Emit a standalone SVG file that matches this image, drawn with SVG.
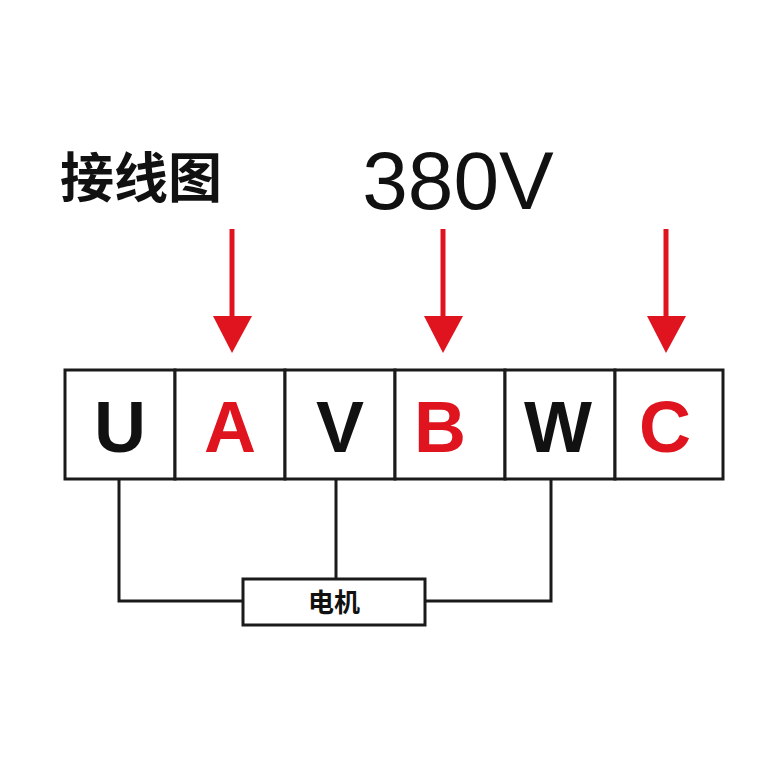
<svg xmlns="http://www.w3.org/2000/svg" width="769" height="769" viewBox="0 0 769 769">
<style>
.cell{fill:#fff;stroke:#1a1a1a;stroke-width:3}
.lt{font-family:"Liberation Sans",Arial,sans-serif;font-weight:bold;font-size:72px;text-anchor:middle}
.k{fill:#111}.r{fill:#e0141e}
.w{fill:none;stroke:#1a1a1a;stroke-width:3}
.ar{stroke:#e0141e;stroke-width:5}
</style>
<rect width="769" height="769" fill="#fff"/>
<text x="60" y="198" font-family="'Noto Sans CJK SC',sans-serif" font-weight="bold" font-size="54" fill="#111">接线图</text>
<text x="458" y="209" font-family="'Liberation Sans',Arial,sans-serif" font-size="82" fill="#111" text-anchor="middle">380V</text>
<g id="arrows">
<line class="ar" x1="232" y1="229" x2="232" y2="320"/><polygon points="213,316 252,316 232,353" fill="#e0141e"/>
<line class="ar" x1="443" y1="229" x2="443" y2="320"/><polygon points="424,316 463,316 443,353" fill="#e0141e"/>
<line class="ar" x1="666" y1="229" x2="666" y2="320"/><polygon points="647,316 686,316 666,353" fill="#e0141e"/>
</g>
<g id="connectors">
<polyline class="w" points="119,479 119,601 243,601"/>
<line class="w" x1="336" y1="479" x2="336" y2="579"/>
<polyline class="w" points="551,479 551,601 425,601"/>
</g>
<g id="U"><rect class="cell" x="65" y="370" width="110" height="109"/><text class="lt k" x="120" y="452">U</text></g>
<g id="A"><rect class="cell" x="175" y="370" width="110" height="109"/><text class="lt r" x="230" y="452">A</text></g>
<g id="V"><rect class="cell" x="285" y="370" width="110" height="109"/><text class="lt k" x="340" y="452">V</text></g>
<g id="B"><rect class="cell" x="395" y="370" width="110" height="109"/><text class="lt r" x="440" y="452">B</text></g>
<g id="W"><rect class="cell" x="505" y="370" width="110" height="109"/><text class="lt k" x="558" y="452">W</text></g>
<g id="C"><rect class="cell" x="615" y="370" width="108" height="109"/><text class="lt r" x="665" y="452">C</text></g>
<g id="motor"><rect class="cell" x="243" y="579" width="182" height="46"/><text x="334" y="612" font-family="'Noto Sans CJK SC',sans-serif" font-weight="bold" font-size="26" fill="#111" text-anchor="middle">电机</text></g>
</svg>
